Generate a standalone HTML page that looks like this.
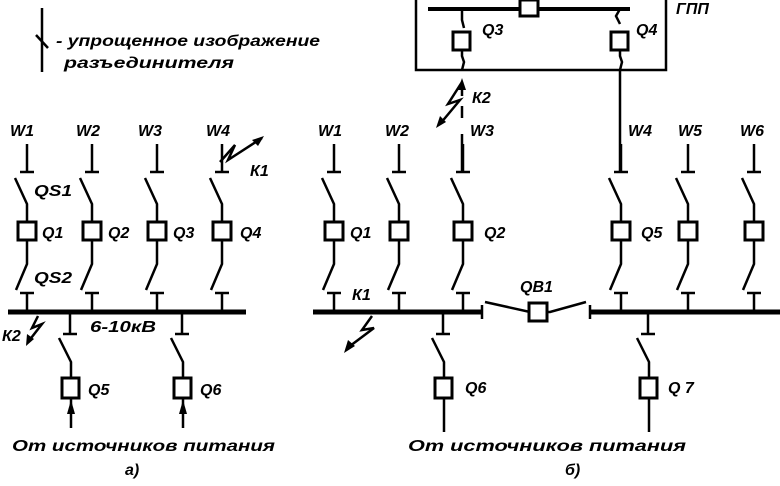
<!DOCTYPE html>
<html><head><meta charset="utf-8"><style>
html,body{margin:0;padding:0;background:#fff;}
svg{display:block}
text{font-family:"Liberation Sans",sans-serif;font-style:italic;font-weight:bold;font-size:16px;fill:#000}
</style></head><body>
<svg width="780" height="486" viewBox="0 0 780 486" xmlns="http://www.w3.org/2000/svg">
<defs>
<g id="fd" stroke="#000" fill="none" stroke-width="2.5">
<line x1="0" y1="-28" x2="0" y2="0"/><line x1="-7" y1="0" x2="7" y2="0"/>
<polyline points="-12,6 0,32 0,50"/>
<rect x="-9" y="50" width="18" height="18" fill="#fff" stroke-width="3"/>
<polyline points="0,68 0,92 -11,118"/>
<line x1="-7" y1="121" x2="7" y2="121"/><line x1="0" y1="121" x2="0" y2="140"/>
</g>
<g id="bf" stroke="#000" fill="none" stroke-width="2.5">
<line x1="0" y1="0" x2="0" y2="22"/><line x1="-7" y1="22" x2="7" y2="22"/>
<polyline points="-11,26 1,50 1,66"/>
<rect x="-8" y="66" width="17" height="20" fill="#fff" stroke-width="3"/>
</g>
</defs>
<!-- legend -->
<g stroke="#000" stroke-width="2.5" fill="none">
<line x1="42" y1="8" x2="42" y2="72"/><line x1="36" y1="35" x2="48" y2="48"/>
</g>
<text x="56" y="46" textLength="264" lengthAdjust="spacingAndGlyphs">- упрощенное изображение</text>
<text x="64" y="68" textLength="170" lengthAdjust="spacingAndGlyphs">разъединителя</text>
<!-- left diagram -->
<text x="10" y="136">W1</text><text x="76" y="136">W2</text><text x="138" y="136">W3</text><text x="206" y="136">W4</text>
<use href="#fd" x="27" y="172"/><use href="#fd" x="92" y="172"/><use href="#fd" x="157" y="172"/><use href="#fd" x="222" y="172"/>
<text x="34" y="196" textLength="38" lengthAdjust="spacingAndGlyphs">QS1</text><text x="34" y="283" textLength="38" lengthAdjust="spacingAndGlyphs">QS2</text>
<text x="42" y="238">Q1</text><text x="108" y="238">Q2</text><text x="173" y="238">Q3</text><text x="240" y="238">Q4</text>
<line x1="8" y1="312" x2="246" y2="312" stroke="#000" stroke-width="5"/>
<polyline points="220,162 235,145 228,160 262,138" stroke="#000" stroke-width="2.5" fill="none"/>
<polygon points="264,136 252,140 258,146" fill="#000"/>
<text x="250" y="176">К1</text>
<polyline points="38,316 32,328 42,324 28,342" stroke="#000" stroke-width="2.5" fill="none"/>
<polygon points="26,346 27,334 34,339" fill="#000"/>
<text x="2" y="341">К2</text>
<text x="90" y="332" textLength="66" lengthAdjust="spacingAndGlyphs">6-10кВ</text>
<use href="#bf" x="70" y="312"/><use href="#bf" x="182" y="312"/>
<text x="88" y="395">Q5</text><text x="200" y="395">Q6</text>
<g stroke="#000" stroke-width="2.5"><line x1="71" y1="398" x2="71" y2="428"/><line x1="183" y1="398" x2="183" y2="428"/></g>
<polygon points="67,414 71,400 75,414" fill="#000"/><polygon points="179,414 183,400 187,414" fill="#000"/>
<text x="12" y="451" textLength="263" lengthAdjust="spacingAndGlyphs">От источников питания</text>
<text x="125" y="475">а)</text>
<!-- right diagram: GPP -->
<g stroke="#000" stroke-width="2.5" fill="none">
<polyline points="416,0 416,70 666,70 666,0"/>
<line x1="428" y1="9" x2="630" y2="9" stroke-width="4"/>
<polyline points="462,9 462,20 464,28"/>
<rect x="453" y="32" width="17" height="18" stroke-width="3" fill="#fff"/>
<polyline points="462,50 462,56 464,62 462,70"/>
<polyline points="620,9 616,16 620,24"/>
<rect x="611" y="32" width="17" height="18" stroke-width="3" fill="#fff"/>
<polyline points="620,50 620,56 622,62 620,70 620,172"/>
<line x1="462" y1="82" x2="462" y2="96"/><line x1="462" y1="106" x2="462" y2="118"/><line x1="462" y1="134" x2="462" y2="172"/>
<polyline points="462,82 448,104 460,100 440,124"/>
</g>
<rect x="520" y="0" width="18" height="16" stroke="#000" stroke-width="3" fill="#fff"/>
<polygon points="436,128 440,116 446,122" fill="#000"/><polygon points="462,78 458,90 466,90" fill="#000"/>
<text x="482" y="35">Q3</text><text x="636" y="35">Q4</text><text x="676" y="14">ГПП</text>
<text x="472" y="103">К2</text>
<text x="318" y="136">W1</text><text x="385" y="136">W2</text><text x="470" y="136">W3</text>
<text x="628" y="136">W4</text><text x="678" y="136">W5</text><text x="740" y="136">W6</text>
<use href="#fd" x="334" y="172"/><use href="#fd" x="399" y="172"/><use href="#fd" x="463" y="172"/>
<use href="#fd" x="621" y="172"/><use href="#fd" x="688" y="172"/><use href="#fd" x="754" y="172"/>
<text x="350" y="238">Q1</text><text x="484" y="238">Q2</text><text x="641" y="238">Q5</text>
<line x1="313" y1="312" x2="482" y2="312" stroke="#000" stroke-width="5"/>
<line x1="590" y1="312" x2="780" y2="312" stroke="#000" stroke-width="5"/>
<g stroke="#000" stroke-width="2.5" fill="none">
<line x1="482" y1="305" x2="482" y2="319"/><line x1="590" y1="305" x2="590" y2="319"/>
<polyline points="485,302 530,312 550,312 586,302"/>
</g>
<rect x="529" y="303" width="18" height="18" stroke="#000" stroke-width="3" fill="#fff"/>
<text x="520" y="292">QB1</text>
<text x="352" y="300">К1</text>
<polyline points="372,316 362,330 374,328 350,346" stroke="#000" stroke-width="2.5" fill="none"/>
<polygon points="344,353 348,340 355,346" fill="#000"/>
<use href="#bf" x="443" y="312"/><use href="#bf" x="648" y="312"/>
<g stroke="#000" stroke-width="2.5"><line x1="444" y1="398" x2="444" y2="432"/><line x1="649" y1="398" x2="649" y2="432"/></g>
<text x="465" y="393">Q6</text><text x="668" y="393">Q 7</text>
<text x="408" y="451" textLength="278" lengthAdjust="spacingAndGlyphs">От источников питания</text>
<text x="565" y="475">б)</text>
</svg>
</body></html>
